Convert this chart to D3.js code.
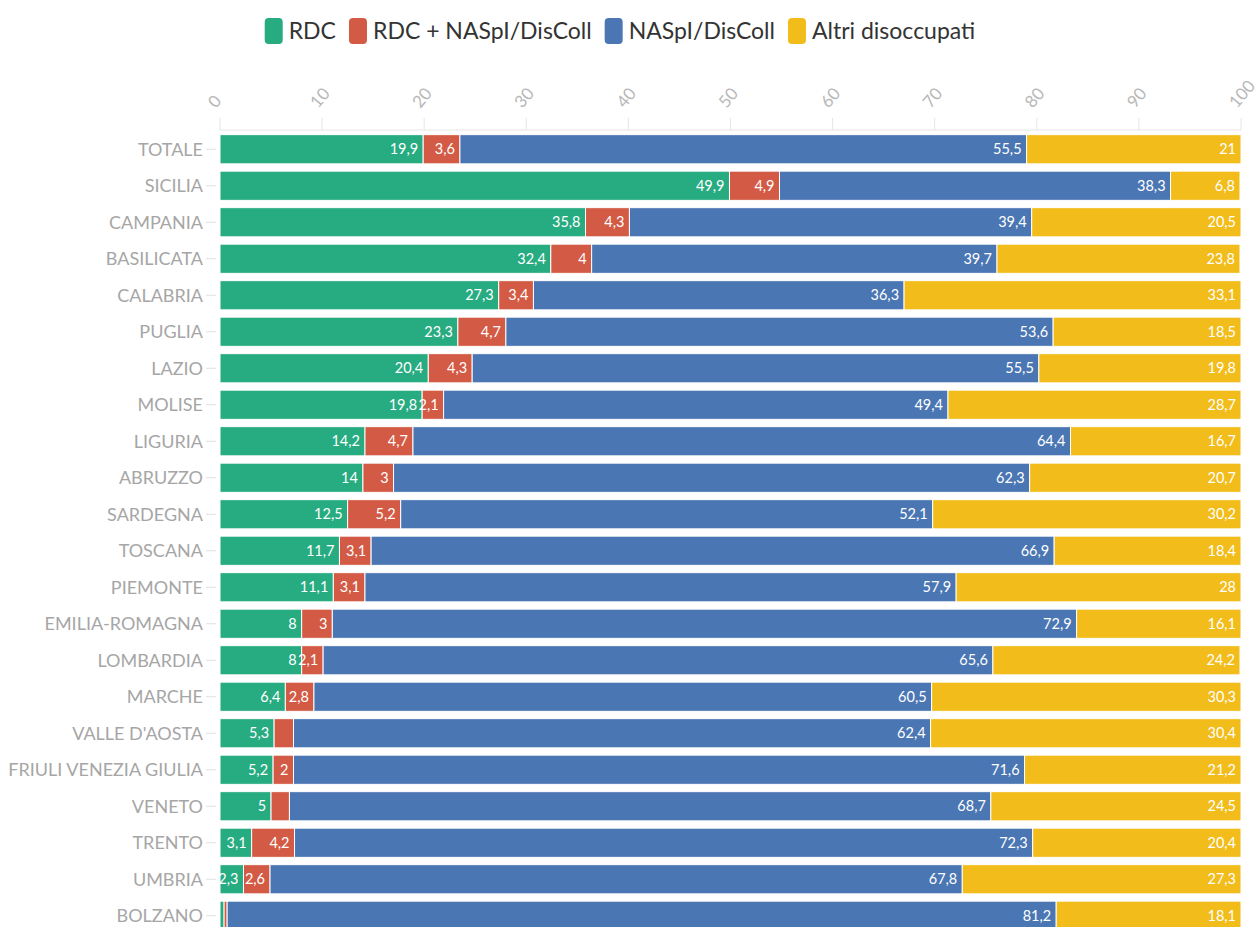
<!DOCTYPE html>
<html lang="it">
<head>
  <meta charset="UTF-8">
  <title>Disoccupati per regione</title>
  <style>
    body {
      margin: 0;
      background-color: #fff;
      font-family: Lato, "Open Sans", sans-serif;
    }
    .cat-label { fill: #a6a6a6; font-size: 18px; }
    .tick-label { fill: #b8b8b8; font-size: 17px; }
    .val { fill: #fff; font-size: 14.5px; }
    .legend-text { fill: #333; font-size: 23px; }
  </style>
</head>
<body>
  <div id="chart"></div>

  <script src="https://d3js.org/d3.v7.min.js"></script>
  <script>
    const regions = ["TOTALE", "SICILIA", "CAMPANIA", "BASILICATA", "CALABRIA", "PUGLIA", "LAZIO", "MOLISE",
      "LIGURIA", "ABRUZZO", "SARDEGNA", "TOSCANA", "PIEMONTE", "EMILIA-ROMAGNA", "LOMBARDIA", "MARCHE",
      "VALLE D'AOSTA", "FRIULI VENEZIA GIULIA", "VENETO", "TRENTO", "UMBRIA", "BOLZANO"];
    const seriesNames = ["RDC", "RDC + NASpI/DisColl", "NASpI/DisColl", "Altri disoccupati"];
    const rdc        = [19.9, 49.9, 35.8, 32.4, 27.3, 23.3, 20.4, 19.8, 14.2, 14, 12.5, 11.7, 11.1, 8, 8, 6.4, 5.3, 5.2, 5, 3.1, 2.3, 0.4];
    const rdcNaspi   = [3.6, 4.9, 4.3, 4, 3.4, 4.7, 4.3, 2.1, 4.7, 3, 5.2, 3.1, 3.1, 3, 2.1, 2.8, 1.9, 2, 1.8, 4.2, 2.6, 0.3];
    const naspi      = [55.5, 38.3, 39.4, 39.7, 36.3, 53.6, 55.5, 49.4, 64.4, 62.3, 52.1, 66.9, 57.9, 72.9, 65.6, 60.5, 62.4, 71.6, 68.7, 72.3, 67.8, 81.2];
    const altri      = [21, 6.8, 20.5, 23.8, 33.1, 18.5, 19.8, 28.7, 16.7, 20.7, 30.2, 18.4, 28, 16.1, 24.2, 30.3, 30.4, 21.2, 24.5, 20.4, 27.3, 18.1];
    const xTicks = [0, 10, 20, 30, 40, 50, 60, 70, 80, 90, 100];
    const colors = ["#27ab80", "#d35a44", "#4a76b3", "#f2bc1a"];

    const width = 1258;
    const height = 927;
    const margin = { top: 131, left: 220, right: 17 };

    const svg = d3.select("#chart").append("svg")
      .attr("width", width)
      .attr("height", height);

    const x = d3.scaleLinear()
      .domain([0, 100])
      .range([margin.left, width - margin.right])
      .clamp(true);

    const y = d3.scaleBand()
      .domain(regions)
      .range([margin.top, margin.top + 36.5 * regions.length])
      .paddingInner(0.2)
      .paddingOuter(0.1);

    const rows = regions.map((r, i) => ({ region: r, values: [rdc[i], rdcNaspi[i], naspi[i], altri[i]] }));

    // top axis
    const axisG = svg.append("g");
    axisG.append("line")
      .attr("x1", x(0)).attr("x2", x(100))
      .attr("y1", margin.top - 1).attr("y2", margin.top - 1)
      .attr("stroke", "#e6e6e6");
    xTicks.forEach(t => {
      axisG.append("line")
        .attr("x1", x(t)).attr("x2", x(t))
        .attr("y1", margin.top - 13).attr("y2", margin.top - 1)
        .attr("stroke", "#e6e6e6");
      axisG.append("text")
        .attr("class", "tick-label")
        .attr("transform", `translate(${x(t) - 4},${margin.top - 22}) rotate(-50)`)
        .attr("text-anchor", "start")
        .text(t);
    });

    // category labels
    const catG = svg.append("g");
    regions.forEach(r => {
      const cy = y(r) + y.bandwidth() / 2;
      catG.append("line")
        .attr("x1", margin.left - 14).attr("x2", margin.left - 4)
        .attr("y1", cy).attr("y2", cy)
        .attr("stroke", "#e0e0e0");
      catG.append("text")
        .attr("class", "cat-label")
        .attr("x", margin.left - 17)
        .attr("y", cy)
        .attr("dy", "0.35em")
        .attr("text-anchor", "end")
        .text(r);
    });

    // bars
    const fmt = v => String(v).replace(".", ",");
    const barG = svg.append("g");
    rows.forEach(row => {
      let acc = 0;
      row.values.forEach((v, j) => {
        const x0 = x(acc);
        const x1 = x(acc + v);
        acc += v;
        barG.append("rect")
          .attr("x", x0)
          .attr("y", y(row.region))
          .attr("width", Math.max(0, x1 - x0))
          .attr("height", y.bandwidth())
          .attr("fill", colors[j])
          .attr("stroke", "#fff")
          .attr("stroke-width", 1);
        if (v >= 2) {
          barG.append("text")
            .attr("class", "val")
            .attr("x", x1 - 5)
            .attr("y", y(row.region) + y.bandwidth() / 2)
            .attr("dy", "0.36em")
            .attr("text-anchor", "end")
            .text(fmt(v));
        }
      });
    });

    // legend
    const legend = svg.append("g");
    let lx = 0;
    seriesNames.forEach((name, i) => {
      const item = legend.append("g").attr("transform", `translate(${lx},0)`);
      item.append("rect")
        .attr("x", 0).attr("y", 18)
        .attr("width", 18).attr("height", 26)
        .attr("rx", 4)
        .attr("fill", colors[i]);
      const t = item.append("text")
        .attr("class", "legend-text")
        .attr("x", 24).attr("y", 31)
        .attr("dy", "0.35em")
        .text(name);
      lx += 24 + t.node().getComputedTextLength() + 13;
    });
    const legendWidth = lx - 13;
    legend.attr("transform", `translate(${620 - legendWidth / 2},0)`);
  </script>
</body>
</html>
